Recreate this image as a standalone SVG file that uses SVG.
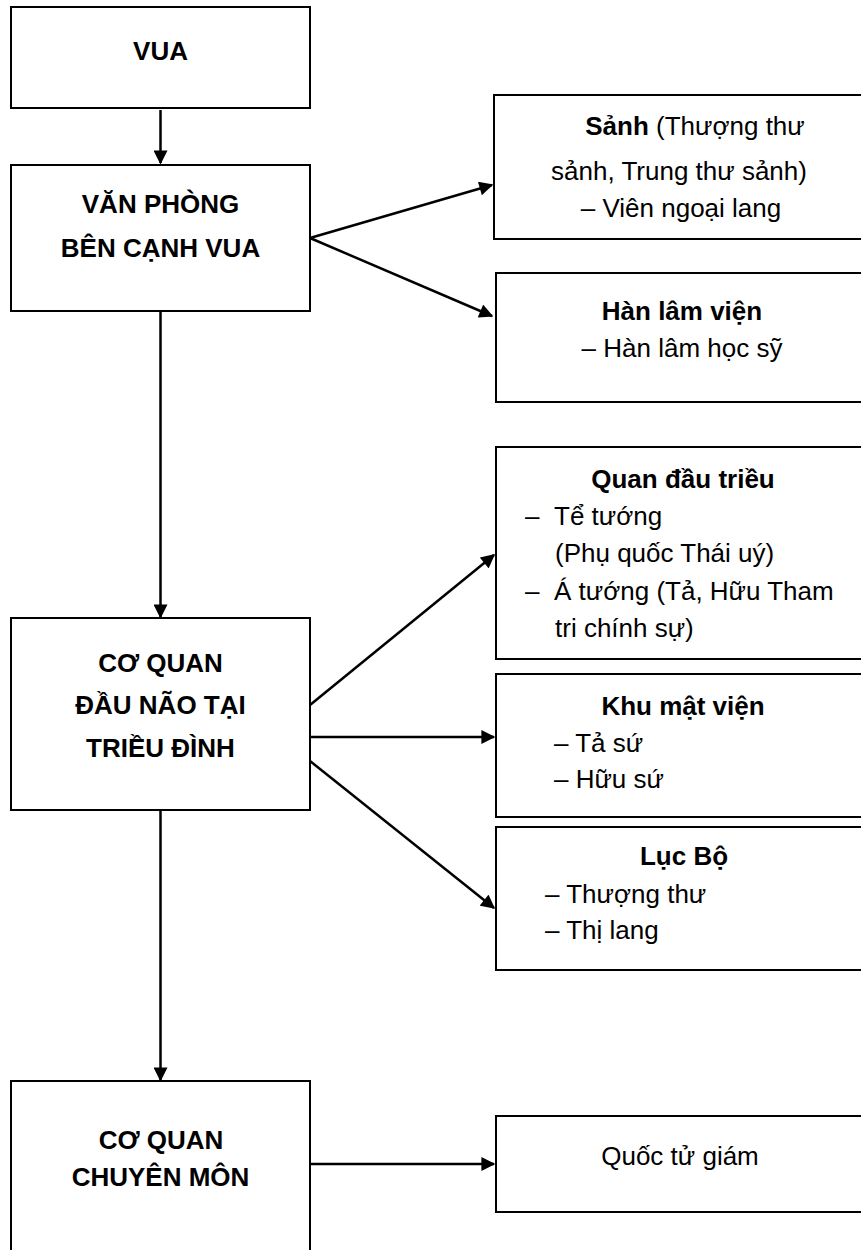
<svg xmlns="http://www.w3.org/2000/svg" width="861" height="1250" viewBox="0 0 861 1250">
<defs>
<style>
.box{fill:#fff;stroke:#000;stroke-width:2}
.t{font-family:"Liberation Sans",Arial,sans-serif;font-size:26px;fill:#000}
.b{font-weight:bold}
.m{text-anchor:middle}
.c{stroke:#000;stroke-width:2.5;fill:none;marker-end:url(#ah)}
</style>
<marker id="ah" viewBox="0 0 10 10" markerWidth="15" markerHeight="14" refX="9" refY="5" orient="auto" markerUnits="userSpaceOnUse">
<path d="M0,0 L10,5 L0,10 Z" fill="#000"/>
</marker>
</defs>
<rect width="861" height="1250" fill="#fff"/>

<g id="connectors">
<line class="c" x1="160.5" y1="110" x2="160.5" y2="163"/>
<line class="c" x1="160.5" y1="311" x2="160.5" y2="617"/>
<line class="c" x1="160.5" y1="810" x2="160.5" y2="1080"/>
<line class="c" x1="310" y1="238" x2="492" y2="185"/>
<line class="c" x1="310" y1="238" x2="492" y2="316"/>
<line class="c" x1="310" y1="705" x2="494" y2="555"/>
<line class="c" x1="310" y1="737" x2="494" y2="737"/>
<line class="c" x1="310" y1="761" x2="494" y2="908"/>
<line class="c" x1="310" y1="1164" x2="494" y2="1164"/>
</g>

<g id="vua">
<rect class="box" x="11" y="7" width="299" height="101"/>
<text class="t b m" x="160.5" y="60">VUA</text>
</g>

<g id="van-phong">
<rect class="box" x="11" y="165" width="299" height="146"/>
<text class="t b m" x="160.5" y="213">VĂN PHÒNG</text>
<text class="t b m" x="160.5" y="257">BÊN CẠNH VUA</text>
</g>

<g id="sanh">
<rect class="box" x="494" y="95" width="380" height="144"/>
<text class="t m" x="695" y="135"><tspan class="b">Sảnh</tspan> (Thượng thư</text>
<text class="t m" x="679" y="180">sảnh, Trung thư sảnh)</text>
<text class="t m" x="681" y="217">– Viên ngoại lang</text>
</g>

<g id="han-lam">
<rect class="box" x="496" y="273" width="380" height="129"/>
<text class="t b m" x="682" y="320">Hàn lâm viện</text>
<text class="t m" x="682" y="357">– Hàn lâm học sỹ</text>
</g>

<g id="co-quan-dau-nao">
<rect class="box" x="11" y="618" width="299" height="192"/>
<text class="t b m" x="160.5" y="672">CƠ QUAN</text>
<text class="t b m" x="160.5" y="714">ĐẦU NÃO TẠI</text>
<text class="t b m" x="160.5" y="757">TRIỀU ĐÌNH</text>
</g>

<g id="quan-dau-trieu">
<rect class="box" x="496" y="447" width="380" height="212"/>
<text class="t b m" x="683" y="488">Quan đầu triều</text>
<text class="t" x="525" y="525">–</text>
<text class="t" x="554" y="525">Tể tướng</text>
<text class="t" x="555" y="562">(Phụ quốc Thái uý)</text>
<text class="t" x="525" y="600">–</text>
<text class="t" x="554" y="600">Á tướng (Tả, Hữu Tham</text>
<text class="t" x="555" y="637">tri chính sự)</text>
</g>

<g id="khu-mat-vien">
<rect class="box" x="496" y="674" width="380" height="143"/>
<text class="t b m" x="683" y="715">Khu mật viện</text>
<text class="t" x="554" y="752">– Tả sứ</text>
<text class="t" x="554" y="788">– Hữu sứ</text>
</g>

<g id="luc-bo">
<rect class="box" x="496" y="827" width="380" height="143"/>
<text class="t b m" x="684" y="865">Lục Bộ</text>
<text class="t" x="545" y="903">– Thượng thư</text>
<text class="t" x="545" y="939">– Thị lang</text>
</g>

<g id="chuyen-mon">
<rect class="box" x="11" y="1081" width="299" height="200"/>
<text class="t b m" x="161" y="1149">CƠ QUAN</text>
<text class="t b m" x="160.5" y="1186">CHUYÊN MÔN</text>
</g>

<g id="quoc-tu-giam">
<rect class="box" x="496" y="1116" width="380" height="96"/>
<text class="t m" x="680" y="1165">Quốc tử giám</text>
</g>
</svg>
